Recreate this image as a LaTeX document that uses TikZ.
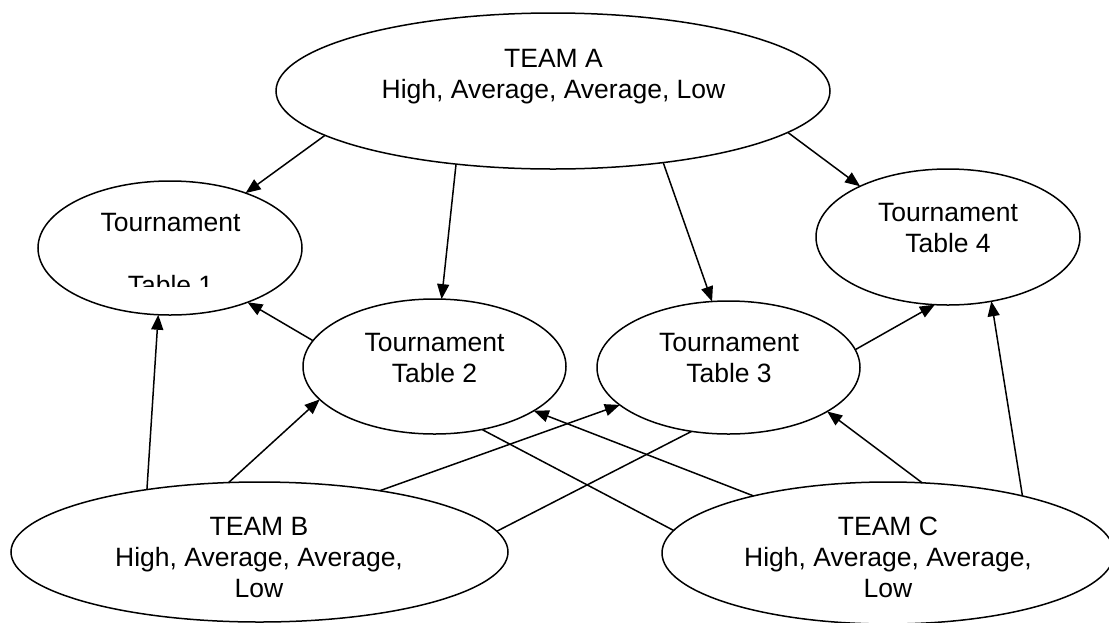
\documentclass[tikz,border=0pt]{standalone}
\usepackage{fontspec}
\setmainfont{Liberation Sans}
\usetikzlibrary{shapes.geometric,arrows.meta}

\begin{document}
\begin{tikzpicture}[x=1pt,y=-1pt,
  oval/.style={draw,ellipse,line width=1.5pt,inner sep=0pt,outer sep=0pt},
  ovaltext/.style={anchor=north,align=center,inner sep=0pt,
    font=\fontsize{26.5}{31}\selectfont},
  arr/.style={line width=1.5pt,-{Triangle[length=15pt,width=12pt]}},
  link/.style={line width=1.5pt}]
\useasboundingbox (0,0) rectangle (1109,622);

% teams and tournament tables
\node[oval,minimum width=554pt,minimum height=156pt] (A)  at (553,91)      {};
\node[oval,minimum width=264pt,minimum height=134pt] (T1) at (170,248)     {};
\node[oval,minimum width=263pt,minimum height=135pt] (T2) at (434.5,366.5) {};
\node[oval,minimum width=263pt,minimum height=133pt] (T3) at (728.5,367.5) {};
\node[oval,minimum width=264pt,minimum height=136pt] (T4) at (948,237)     {};
\node[oval,minimum width=497pt,minimum height=140pt] (B)  at (259.5,552)   {};
\node[oval,minimum width=452pt,minimum height=142pt] (C)  at (888,553)     {};

% texts
\node[ovaltext] (At)  at (553.5,49) {TEAM A\\High, Average, Average, Low};
\node[ovaltext] (T1t) at (170.5,213) {Tournament};
\begin{scope}
  \clip (0,0) rectangle (1109,286);
  \node[ovaltext] (T1u) at (170.5,275) {Table 1};
\end{scope}
\node[ovaltext] (T2t) at (434.5,333) {Tournament\\Table 2};
\node[ovaltext] (T3t) at (729,333)   {Tournament\\Table 3};
\node[ovaltext] (T4t) at (948,203)   {Tournament\\Table 4};
\node[ovaltext] (Bt)  at (259,517)   {TEAM B\\High, Average, Average,\\Low};
\node[ovaltext] (Ct)  at (888,517)   {TEAM C\\High, Average, Average,\\Low};

% connectors
\draw[arr] (A.191) -- (T1.36);
\draw[arr] (A.217) -- (T2.84);
\draw[arr] (A.327) -- (T3.104);
\draw[arr] (A.350) -- (T4.150);
\draw[arr] (T2.168) -- (T1.325);
\draw[arr] (B.151) -- (T1.260);
\draw[arr] (B.114) -- (T2.196);
\draw[arr] (B.27) -- (T3.199);
\draw[link] (T3.240) -- (B.5);
\draw[link] (T2.307) -- (C.174);
\draw[arr] (C.157) -- (T2.336);
\draw[arr] (C.64) -- (T3.336);
\draw[arr] (C.23) -- (T4.304);
\draw[arr] (T3.8) -- (T4.259);
\end{tikzpicture}
\end{document}
